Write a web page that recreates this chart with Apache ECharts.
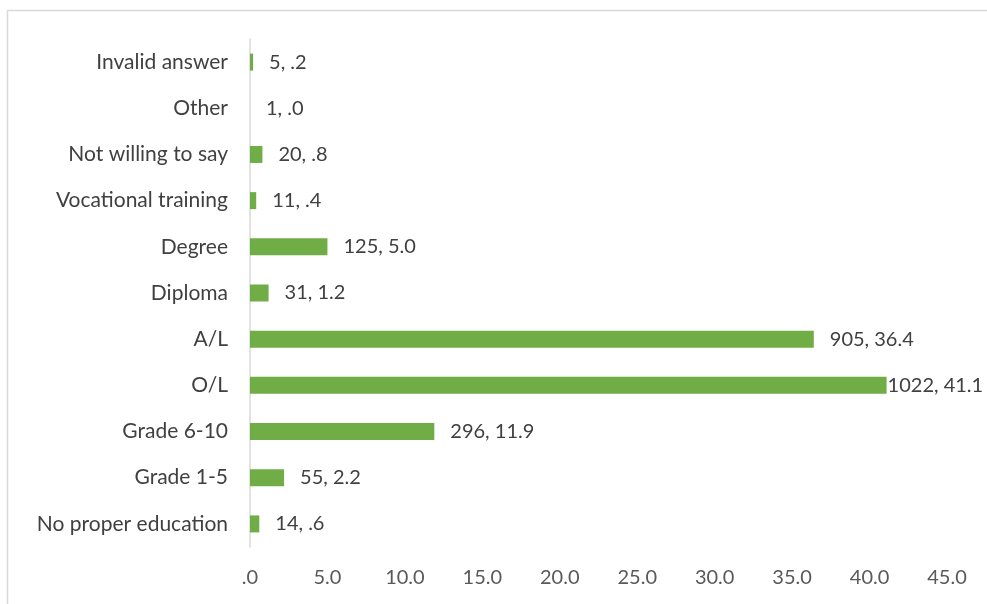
<!DOCTYPE html>
<html>
<head>
<meta charset="utf-8">
<script src="https://cdn.jsdelivr.net/npm/echarts@6/dist/echarts.min.js"></script>
<style>
  html, body { margin: 0; padding: 0; background: #fff; }
  #chart { width: 987px; height: 604px; }
</style>
</head>
<body>
<div id="chart"></div>
<script>
// categories, bottom to top
const categories = ["No proper education", "Grade 1-5", "Grade 6-10", "O/L", "A/L",
    "Diploma", "Degree", "Vocational training", "Not willing to say", "Other", "Invalid answer"];
const counts = [14, 55, 296, 1022, 905, 31, 125, 11, 20, 1, 5];
const percents = [0.6, 2.2, 11.9, 41.1, 36.4, 1.2, 5.0, 0.4, 0.8, 0.0, 0.2];
const xTicks = [0, 5, 10, 15, 20, 25, 30, 35, 40, 45];

// excel style: ".6" instead of "0.6"
function fmt(v) {
    let s = v.toFixed(1);
    return s.startsWith("0.") ? s.substring(1) : s;
}

const font = "Lato, 'Open Sans', sans-serif";

let chart = echarts.init(document.getElementById("chart"), null, { renderer: "canvas" });

let barData = percents.map((v, i) => {
    let d = { value: v };
    // the longest bar gets its label pushed right against the end
    if (v === Math.max(...percents)) d.label = { distance: 1 };
    return d;
});

let option = {
    animation: false,
    backgroundColor: "#fff",
    graphic: [{
        type: "rect",
        shape: { x: 7.5, y: 10.5, width: 1100, height: 800 },
        style: { fill: "none", stroke: "#d9d9d9", lineWidth: 1.5 },
        silent: true
    }],
    grid: { left: 250, right: 40, top: 39, bottom: 57 },
    xAxis: {
        type: "value",
        min: xTicks[0],
        max: xTicks[xTicks.length - 1],
        interval: 5,
        axisLine: { show: false },
        axisTick: { show: false },
        splitLine: { show: false },
        axisLabel: {
            color: "#595959",
            fontFamily: font,
            fontSize: 20,
            margin: 21,
            formatter: v => fmt(v)
        }
    },
    yAxis: {
        type: "category",
        data: categories,
        axisLine: { show: true, lineStyle: { color: "#d9d9d9", width: 1.5 } },
        axisTick: { show: false },
        axisLabel: {
            color: "#404040",
            fontFamily: font,
            fontSize: 21,
            margin: 22
        }
    },
    series: [{
        type: "bar",
        data: barData,
        barWidth: 17,
        itemStyle: { color: "#70AD47" },
        label: {
            show: true,
            position: "right",
            distance: 16,
            color: "#404040",
            fontFamily: font,
            fontSize: 20,
            formatter: p => counts[p.dataIndex] + ", " + fmt(percents[p.dataIndex])
        }
    }]
};

chart.setOption(option);
</script>
</body>
</html>
